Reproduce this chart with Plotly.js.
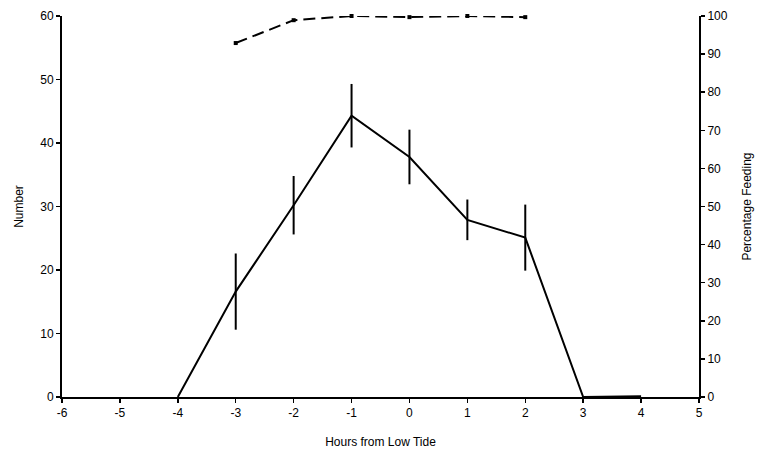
<!DOCTYPE html>
<html><head><meta charset="utf-8">
<script src="https://cdn.plot.ly/plotly-3.0.1.min.js"></script>
<style>html,body{margin:0;padding:0;background:#fff}#c{width:760px;height:457px}</style>
</head><body><div id="c"></div>
<script>
const hours = [-4, -3, -2, -1, 0, 1, 2, 3, 4];
const number = [0, 16.6, 30.2, 44.3, 37.8, 27.9, 25.1, 0, 0.1];
const numberErr = [0, 6.0, 4.6, 5.0, 4.3, 3.2, 5.2, 0, 0];
const feedHours = [-3, -2, -1, 0, 1, 2];
const feeding = [92.9, 98.9, 100, 99.7, 100, 99.7];
const xTickVals = [-6, -5, -4, -3, -2, -1, 0, 1, 2, 3, 4, 5];
const xTickText = ['-6', '-5', '-4', '-3', '-2', '-1', '0', '1', '2', '3', '4', '5'];

const font = {family: 'Liberation Sans, Arial, sans-serif', size: 12, color: '#000'};
const traces = [
  {x: hours, y: number, type: 'scatter', mode: 'lines',
   line: {color: '#000', width: 2}, cliponaxis: false,
   error_y: {type: 'data', array: numberErr, visible: true, color: '#000', thickness: 2, width: 0},
   showlegend: false},
  {x: feedHours, y: feeding, type: 'scatter', mode: 'lines+markers', yaxis: 'y2',
   line: {color: '#000', width: 2, dash: '12px,6px'},
   marker: {symbol: 'square', size: 4, color: '#000'}, cliponaxis: false,
   showlegend: false}
];
const layout = {
  width: 760, height: 457,
  margin: {l: 62, r: 61, t: 16, b: 60},
  paper_bgcolor: '#fff', plot_bgcolor: '#fff',
  font: font,
  xaxis: {range: [-6, 5], tickmode: 'array', tickvals: xTickVals, ticktext: xTickText,
    showgrid: false, zeroline: false,
    showline: true, linecolor: '#000', linewidth: 2,
    ticks: 'outside', ticklen: 4, tickwidth: 1.5, tickcolor: '#000',
    title: {text: 'Hours from Low Tide', font: {size: 12}, standoff: 18}},
  yaxis: {range: [0, 60], dtick: 10, showgrid: false, zeroline: false,
    showline: true, linecolor: '#000', linewidth: 2,
    ticks: 'outside', ticklen: 4, tickwidth: 1.5, tickcolor: '#000',
    title: {text: 'Number', font: {size: 12}, standoff: 14}},
  yaxis2: {range: [0, 100], dtick: 10, overlaying: 'y', side: 'right', showgrid: false, zeroline: false,
    showline: true, linecolor: '#000', linewidth: 2,
    ticks: 'outside', ticklen: 4, tickwidth: 1.5, tickcolor: '#000',
    title: {text: 'Percentage Feeding', font: {size: 12}, standoff: 16}}
};
Plotly.newPlot('c', traces, layout, {staticPlot: true, displayModeBar: false});
</script></body></html>
